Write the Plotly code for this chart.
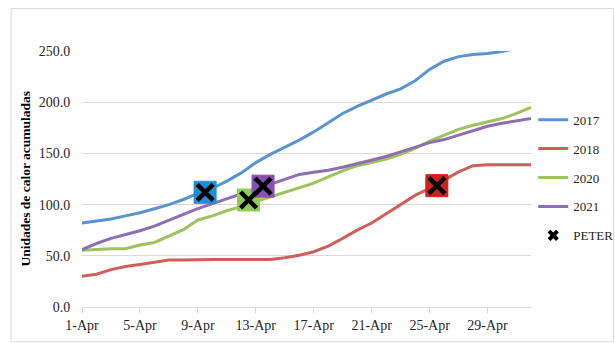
import pandas as pd
import plotly.graph_objects as go

# Daily accumulated heat units, 1-Apr .. 2-May
dates = pd.date_range("2021-04-01", periods=32, freq="D")
s2017 = [82, 84, 86, 89, 92, 96, 100, 105, 111, 116, 123, 131, 141, 149, 156, 163,
         171, 180, 189, 196, 202, 208, 213, 221, 232, 240, 244.5, 246.5, 247.5, 249.5, 252.5, 255]
s2018 = [30, 32, 36.5, 39.5, 41.5, 43.5, 46, 46, 46.5, 46.5, 46.5, 46.5, 46.5, 46.5, 48, 50.5,
         54, 59.5, 67, 75, 82, 91, 100, 109, 116, 124, 132, 138, 139, 139, 139, 139]
s2020 = [55.5, 56.5, 57, 57, 60.5, 63, 69, 75.5, 85, 89, 94, 98, 103, 107.5, 111.5, 116,
         121, 127, 133, 138, 141.5, 144.5, 149, 155, 162, 168, 173.5, 177.5, 181, 184, 189, 195]
s2021 = [56, 62, 67, 70.5, 74.5, 79, 85, 90.5, 96, 101, 106, 110.5, 115, 120, 125, 129.5,
         131.5, 133.5, 136.5, 140, 143.5, 147, 151.5, 156, 160.5, 163.5, 168, 172.5, 176.5, 179.5, 181.5, 184]

series_names = ["2017", "2018", "2020", "2021"]
series_values = [s2017, s2018, s2020, s2021]
line_colors = ["#5B93CF", "#CF5F5B", "#9DC25E", "#8E6DB0"]

# PETER events
peter_dates = pd.to_datetime(["2021-04-09 12:00", "2021-04-25 12:00",
                              "2021-04-12 12:00", "2021-04-13 12:00"])
peter_values = [112, 118.5, 104.5, 118]
peter_colors = ["#1E8FD6", "#D0211A", "#92CC55", "#8A4FB2"]

tick_dates = pd.date_range("2021-04-01", "2021-04-29", freq="4D")
y_ticks = [0, 50, 100, 150, 200, 250]

serif = "'Times New Roman', 'Liberation Serif', serif"
grid = "#D9D9D9"

fig = go.Figure()
for i, (name, vals, col) in enumerate(zip(series_names, series_values, line_colors)):
    fig.add_trace(go.Scatter(x=dates, y=vals, name=name, mode="lines",
                             line=dict(color=col, width=3),
                             legendgroup=name, legendrank=i + 1))

# colored squares behind each cross
for d, v, c in zip(peter_dates, peter_values, peter_colors):
    fig.add_trace(go.Scatter(x=[d], y=[v], mode="markers", showlegend=False,
                             marker=dict(symbol="square", size=22, color=c,
                                         line=dict(color=c, width=1))))
fig.add_trace(go.Scatter(x=peter_dates, y=peter_values, mode="markers", showlegend=False,
                         marker=dict(symbol="x-thin", size=16,
                                     line=dict(color="black", width=4.5))))
# legend entry for the event markers
fig.add_trace(go.Scatter(x=[None], y=[None], mode="markers", name="PETER",
                         legendgroup="PETER", legendrank=5,
                         marker=dict(symbol="x", size=10, color="black")))

fig.update_layout(
    width=615, height=343,
    margin=dict(l=82, r=84.3, t=50.7, b=36.3, autoexpand=False),
    paper_bgcolor="white", plot_bgcolor="white",
    font=dict(family=serif, size=14, color="#262626"),
    showlegend=True,
    legend=dict(x=1.005, y=0.79, xanchor="left", yanchor="top",
                font=dict(family=serif, size=13, color="#262626"),
                tracegroupgap=9, itemwidth=30, bgcolor="rgba(0,0,0,0)"),
    shapes=[dict(type="rect", xref="paper", yref="paper",
                 x0=-0.158, x1=1.184, y0=-0.136, y1=1.166,
                 line=dict(color=grid, width=1), fillcolor="rgba(0,0,0,0)", layer="below")],
    annotations=[dict(text="<b>Unidades de calor acumuladas</b>", textangle=-90,
                      xref="paper", yref="paper", x=-0.128, y=0.5,
                      xanchor="center", yanchor="middle", showarrow=False,
                      font=dict(family=serif, size=13.5, color="#000000"))],
)
fig.update_xaxes(
    type="date", range=[dates[0], dates[-1]],
    tickvals=tick_dates, tickformat="%-d-%b",
    showgrid=False, showline=True, linecolor=grid, linewidth=1,
    ticks="outside", ticklen=5, tickcolor=grid,
    tickfont=dict(family=serif, size=14, color="#262626"),
)
fig.update_yaxes(
    range=[0, 250], tickvals=y_ticks, tickformat=".1f",
    showgrid=True, gridcolor=grid, gridwidth=1,
    zeroline=False, showline=False,
    ticks="outside", ticklen=8, tickcolor="rgba(0,0,0,0)",
    tickfont=dict(family=serif, size=14, color="#262626"),
)

fig.write_html("out.html")
